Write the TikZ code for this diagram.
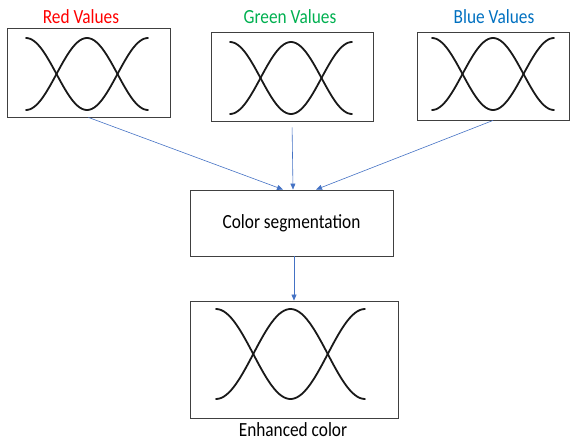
\documentclass[tikz,border=0pt]{standalone}
\usepackage{fontspec}
\setmainfont{Carlito}
\usetikzlibrary{arrows.meta,calc}
\definecolor{redlbl}{HTML}{FF0000}
\definecolor{greenlbl}{HTML}{00B050}
\definecolor{bluelbl}{HTML}{0070C0}
\definecolor{linkblue}{HTML}{4472C4}
\tikzset{
  frame/.style={draw=black!75, line width=0.9pt, rectangle, inner sep=0pt},
  wave/.style={line width=1.8pt, black!90, line cap=round},
  link/.style={draw=linkblue, line width=0.6pt, -{Triangle[length=6pt,width=5pt]}},
  lbl/.style={font=\fontsize{17.3}{20}\selectfont, inner sep=0pt}
}
% slightly tall lettering
\newcommand{\tall}[1]{\scalebox{1}[1.16]{#1}}
% two crossing cosine curves spanning one period between x0 and x1
\newcommand{\crosswaves}[4]{%
  \draw[wave] plot[domain=0:1, samples=60, smooth]
    ({#1+(#2-#1)*\x}, {(#3+#4)/2-(#4-#3)/2*cos(360*\x)});
  \draw[wave] plot[domain=0:1, samples=60, smooth]
    ({#1+(#2-#1)*\x}, {(#3+#4)/2+(#4-#3)/2*cos(360*\x)});
}
\begin{document}
\begin{tikzpicture}[x=1pt, y=-1pt]
\useasboundingbox (0,0) rectangle (573,442);

% input channels
\node[frame, minimum width=163pt, minimum height=89pt] (red) at (88.5,72.5) {};
\node[frame, minimum width=162pt, minimum height=89pt] (green) at (292,76.5) {};
\node[frame, minimum width=152pt, minimum height=88pt] (blue) at (493,76) {};
\crosswaves{26}{148}{38}{110}
\crosswaves{230}{352}{42}{114}
\crosswaves{432}{554}{38}{110}

\node[lbl, text=redlbl] (redl) at (81,17) {\tall{Red Values}};
\node[lbl, text=greenlbl] (greenl) at (290,17) {\tall{Green Values}};
\node[lbl, text=bluelbl] (bluel) at (494,17) {\tall{Blue Values}};

% segmentation step
\node[frame, minimum width=203pt, minimum height=66pt] (seg) at (291.5,223) {};
\node[lbl] (segl) at (seg.center) {\tall{Color segmentation}};

% output
\node[frame, minimum width=208pt, minimum height=117pt] (out) at (294,359.5) {};
\crosswaves{216}{365}{309}{399}
\node[lbl] (outl) at (293,430) {\tall{Enhanced color}};

% connectors
\draw[link] (red.south) -- ($(seg.north)+(-8.5,0)$);
\draw[link, shorten <=6pt] (green.south) -- ($(seg.north)+(1.5,0)$);
\draw[link] (blue.south) -- ($(seg.north)+(24.5,0)$);
\draw[link] (seg.south -| out.north) -- (out.north);
\end{tikzpicture}
\end{document}
